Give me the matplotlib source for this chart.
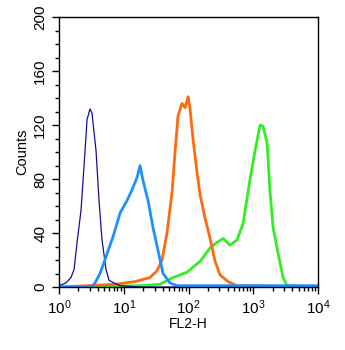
import numpy as np
import matplotlib
matplotlib.use("Agg")
import matplotlib.pyplot as plt
from matplotlib.ticker import LogLocator, MultipleLocator, NullFormatter

plt.rcParams['font.family'] = ['Liberation Sans', 'DejaVu Sans']
plt.rcParams['mathtext.fontset'] = 'custom'
plt.rcParams['mathtext.rm'] = 'Liberation Sans'

# FL2-H values and counts
navy_x = [1.0, 1.28, 1.53, 1.71, 1.90, 2.19, 2.43, 2.71, 3.01, 3.23, 3.73, 4.15, 4.61, 5.32, 5.92, 7.07, 8.75, 17.8, 10000]
navy_y = [1, 3, 7, 13, 33, 57, 89, 124, 132, 129, 101, 64, 35, 13, 5, 3, 1, 0, 0]

blue_x = [1.0, 3.2, 3.6, 4.3, 5.1, 6.8, 8.8, 11.2, 13.4, 16.0, 17.8, 19.8, 23.7, 28.3, 33.8, 40.4, 51.8, 66.4, 10000]
blue_y = [0, 0, 3, 10, 20, 37, 55, 64, 72, 81, 90, 79, 64, 44, 27, 10, 3, 1, 1]

orange_x = [1.0, 7.3, 14.9, 25.4, 32.6, 39.0, 46.5, 55.6, 61.9, 68.9, 79.4, 88.3, 98.2, 105, 117, 135, 151, 180, 215, 257, 306, 407, 561, 10000]
orange_y = [0, 2, 4, 7, 12, 20, 40, 70, 100, 127, 136, 133, 141, 133, 110, 85, 68, 51, 36, 19, 9, 4, 1, 0]

green_x = [1.0, 17.8, 36.3, 57.6, 94.8, 151, 215, 275, 341, 438, 561, 695, 891, 1064, 1271, 1415, 1630, 1815, 2020, 2411, 2880, 3319, 10000]
green_y = [0, 1, 2, 7, 11, 19, 29, 33, 36, 31, 35, 47, 80, 101, 120, 119, 107, 70, 44, 25, 7, 1, 0]

fig = plt.figure(figsize=(3.45, 3.5), dpi=100)
ax = fig.add_axes([0.171, 0.18, 0.751, 0.771])

ax.plot(green_x, green_y, color="#33ee22", lw=2.0)
ax.plot(orange_x, orange_y, color="#ff6a10", lw=2.0)
ax.plot(navy_x, navy_y, color="#10109a", lw=0.9)
ax.plot(blue_x, blue_y, color="#1e90ff", lw=2.0)

ax.set_xscale("log")
ax.set_xlim(1, 10000)
ax.set_ylim(0, 200)

ax.xaxis.set_major_locator(LogLocator(base=10, numticks=10))
ax.xaxis.set_minor_locator(LogLocator(base=10, subs=np.arange(2, 10), numticks=10))
ax.xaxis.set_minor_formatter(NullFormatter())
ax.yaxis.set_major_locator(MultipleLocator(40))
ax.yaxis.set_minor_locator(MultipleLocator(10))

ax.tick_params(axis="both", which="major", direction="out", length=5, width=1, labelsize=11)
ax.tick_params(axis="both", which="minor", direction="out", length=3, width=1)
for lab in ax.get_yticklabels():
    lab.set_rotation(90)
    lab.set_va("center")

for s in ax.spines.values():
    s.set_linewidth(1)

ax.set_xlabel("FL2-H", fontsize=10, labelpad=0)
ax.set_ylabel("Counts", fontsize=10.5, labelpad=3)

fig.savefig("out.png", dpi=100)
